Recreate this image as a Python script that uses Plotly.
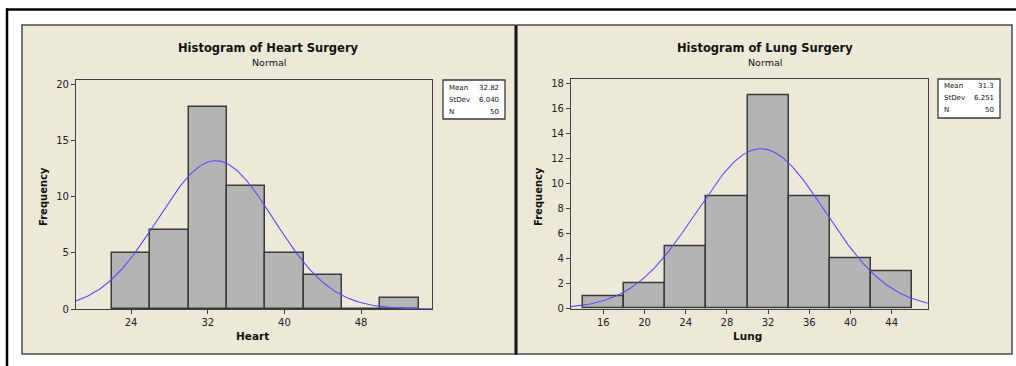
import numpy as np
import plotly.graph_objects as go

# ---------------- data ----------------
heart_bin_centers = [24, 28, 32, 36, 40, 44, 48, 52]
heart_counts = [5, 7, 18, 11, 5, 3, 0, 1]
heart_mean = 32.82
heart_stdev = 6.040
heart_n = 50

lung_bin_centers = [16, 20, 24, 28, 32, 36, 40, 44]
lung_counts = [1, 2, 5, 9, 17, 9, 4, 3]
lung_mean = 31.3
lung_stdev = 6.251
lung_n = 50

bin_width = 4

heart_xticks = [24, 32, 40, 48]
heart_yticks = [0, 5, 10, 15, 20]
lung_xticks = [16, 20, 24, 28, 32, 36, 40, 44]
lung_yticks = [0, 2, 4, 6, 8, 10, 12, 14, 16, 18]

# ---------------- layout helpers ----------------
W, H = 1016, 366
H_LAYOUT = 374
FONT = "DejaVu Sans"
BEIGE = "#ECE9D8"
BAR = "#B4B4B4"
EDGE = "#3A3A3A"
CURVE = "#5B4BFF"


def px(x):
    return x / W


def py(y):
    return 1 - y / H


heart_xrange = [18.25, 55.4]
heart_yrange = [0, 20.4]
lung_xrange = [12.86, 47.5]
lung_yrange = [0, 18.3]


def normal_curve(mean, sd, n, xr):
    xs = np.linspace(xr[0], xr[1], 300)
    ys = n * bin_width / (sd * np.sqrt(2 * np.pi)) * np.exp(-0.5 * ((xs - mean) / sd) ** 2)
    return xs, ys


fig = go.Figure()

# Heart
fig.add_trace(go.Bar(x=heart_bin_centers, y=heart_counts, width=bin_width,
                     marker=dict(color=BAR, line=dict(color=EDGE, width=1.5)),
                     xaxis="x", yaxis="y", showlegend=False))
hx, hy = normal_curve(heart_mean, heart_stdev, heart_n, heart_xrange)
fig.add_trace(go.Scatter(x=hx, y=hy, mode="lines", line=dict(color=CURVE, width=1.1),
                         xaxis="x", yaxis="y", showlegend=False))

# Lung
fig.add_trace(go.Bar(x=lung_bin_centers, y=lung_counts, width=bin_width,
                     marker=dict(color=BAR, line=dict(color=EDGE, width=1.5)),
                     xaxis="x2", yaxis="y2", showlegend=False))
lx, ly = normal_curve(lung_mean, lung_stdev, lung_n, lung_xrange)
fig.add_trace(go.Scatter(x=lx, y=ly, mode="lines", line=dict(color=CURVE, width=1.1),
                         xaxis="x2", yaxis="y2", showlegend=False))

axis_common = dict(showgrid=False, zeroline=False, showline=True, linecolor="#404040",
                   linewidth=1.2, mirror=True, ticks="outside", ticklen=4,
                   tickcolor="#404040", tickwidth=1,
                   tickfont=dict(family=FONT, size=10, color="#222222"),
                   fixedrange=True)

shapes = []
# outer black lines
shapes.append(dict(type="line", xref="paper", yref="paper", x0=px(6), x1=px(1016),
                   y0=py(7.5), y1=py(7.5), line=dict(color="black", width=2.5)))
shapes.append(dict(type="line", xref="paper", yref="paper", x0=px(7), x1=px(7),
                   y0=py(6.5), y1=py(366), line=dict(color="black", width=2.5)))
# panels
for x0, x1 in [(22, 515), (517, 1012)]:
    shapes.append(dict(type="rect", xref="paper", yref="paper", x0=px(x0), x1=px(x1),
                       y0=py(352), y1=py(23), fillcolor=BEIGE,
                       line=dict(color="#4A4A4A", width=1.5), layer="below"))
shapes.append(dict(type="line", xref="paper", yref="paper", x0=px(516), x1=px(516),
                   y0=py(23), y1=py(353), line=dict(color="#1A1A1A", width=2)))
# faint line at bottom
shapes.append(dict(type="line", xref="paper", yref="paper", x0=px(8), x1=px(1016),
                   y0=py(364.5), y1=py(364.5), line=dict(color="#E4E4E4", width=1)))
# stats boxes
for x0, x1, y0, y1 in [(443, 505, 78, 117), (938, 1000, 77, 116)]:
    shapes.append(dict(type="rect", xref="paper", yref="paper", x0=px(x0), x1=px(x1),
                       y0=py(y1), y1=py(y0), fillcolor="white",
                       line=dict(color="#3A3A3A", width=1.3)))

annotations = []


def text(x, y, s, size, bold=False, xanchor="center", angle=0, color="#111111"):
    annotations.append(dict(x=px(x), y=py(y), xref="paper", yref="paper",
                            text=f"<b>{s}</b>" if bold else s, showarrow=False,
                            xanchor=xanchor, yanchor="middle", textangle=angle,
                            font=dict(family=FONT, size=size, color=color)))


# titles
text(268.5, 46, "Histogram of Heart Surgery", 11.5, bold=True)
text(268.5, 61, "Normal", 9.5)
text(764.5, 46, "Histogram of Lung Surgery", 11.5, bold=True)
text(764.5, 61, "Normal", 9.5)
# axis titles
text(43, 195, "Frequency", 10, bold=True, angle=-90)
text(252, 334, "Heart", 10.5, bold=True)
text(538, 195, "Frequency", 10, bold=True, angle=-90)
text(747, 334, "Lung", 10.5, bold=True)
# stats
heart_stats = [("Mean", f"{heart_mean:.2f}"), ("StDev", f"{heart_stdev:.3f}"), ("N", f"{heart_n}")]
lung_stats = [("Mean", f"{lung_mean:.1f}"), ("StDev", f"{lung_stdev:.3f}"), ("N", f"{lung_n}")]
for (lab, val), yy in zip(heart_stats, [86, 98, 110]):
    text(447, yy, lab, 7, xanchor="left")
    text(501, yy, val, 7, xanchor="right")
for (lab, val), yy in zip(lung_stats, [84, 96, 108]):
    text(942, yy, lab, 7, xanchor="left")
    text(996, yy, val, 7, xanchor="right")

fig.update_layout(
    width=W, height=H_LAYOUT, autosize=False, margin=dict(l=0, r=0, t=0, b=0, pad=0),
    paper_bgcolor="white", plot_bgcolor="white",
    bargap=0, showlegend=False,
    shapes=shapes, annotations=annotations,
    xaxis=dict(domain=[px(76), px(432)], range=heart_xrange, tickvals=heart_xticks,
               anchor="y", **axis_common),
    yaxis=dict(domain=[py(307), py(78)], range=heart_yrange, tickvals=heart_yticks,
               anchor="x", **axis_common),
    xaxis2=dict(domain=[px(571), px(927.7)], range=lung_xrange, tickvals=lung_xticks,
                anchor="y2", **axis_common),
    yaxis2=dict(domain=[py(306.7), py(77.3)], range=lung_yrange, tickvals=lung_yticks,
                anchor="x2", **axis_common),
)

post = (
    "document.documentElement.style.margin='0';"
    "document.body.style.margin='0';document.body.style.padding='0';"
    "document.body.style.overflow='hidden';"
)
fig.write_html("out.html", config={"displayModeBar": False, "responsive": False},
               post_script=post)
